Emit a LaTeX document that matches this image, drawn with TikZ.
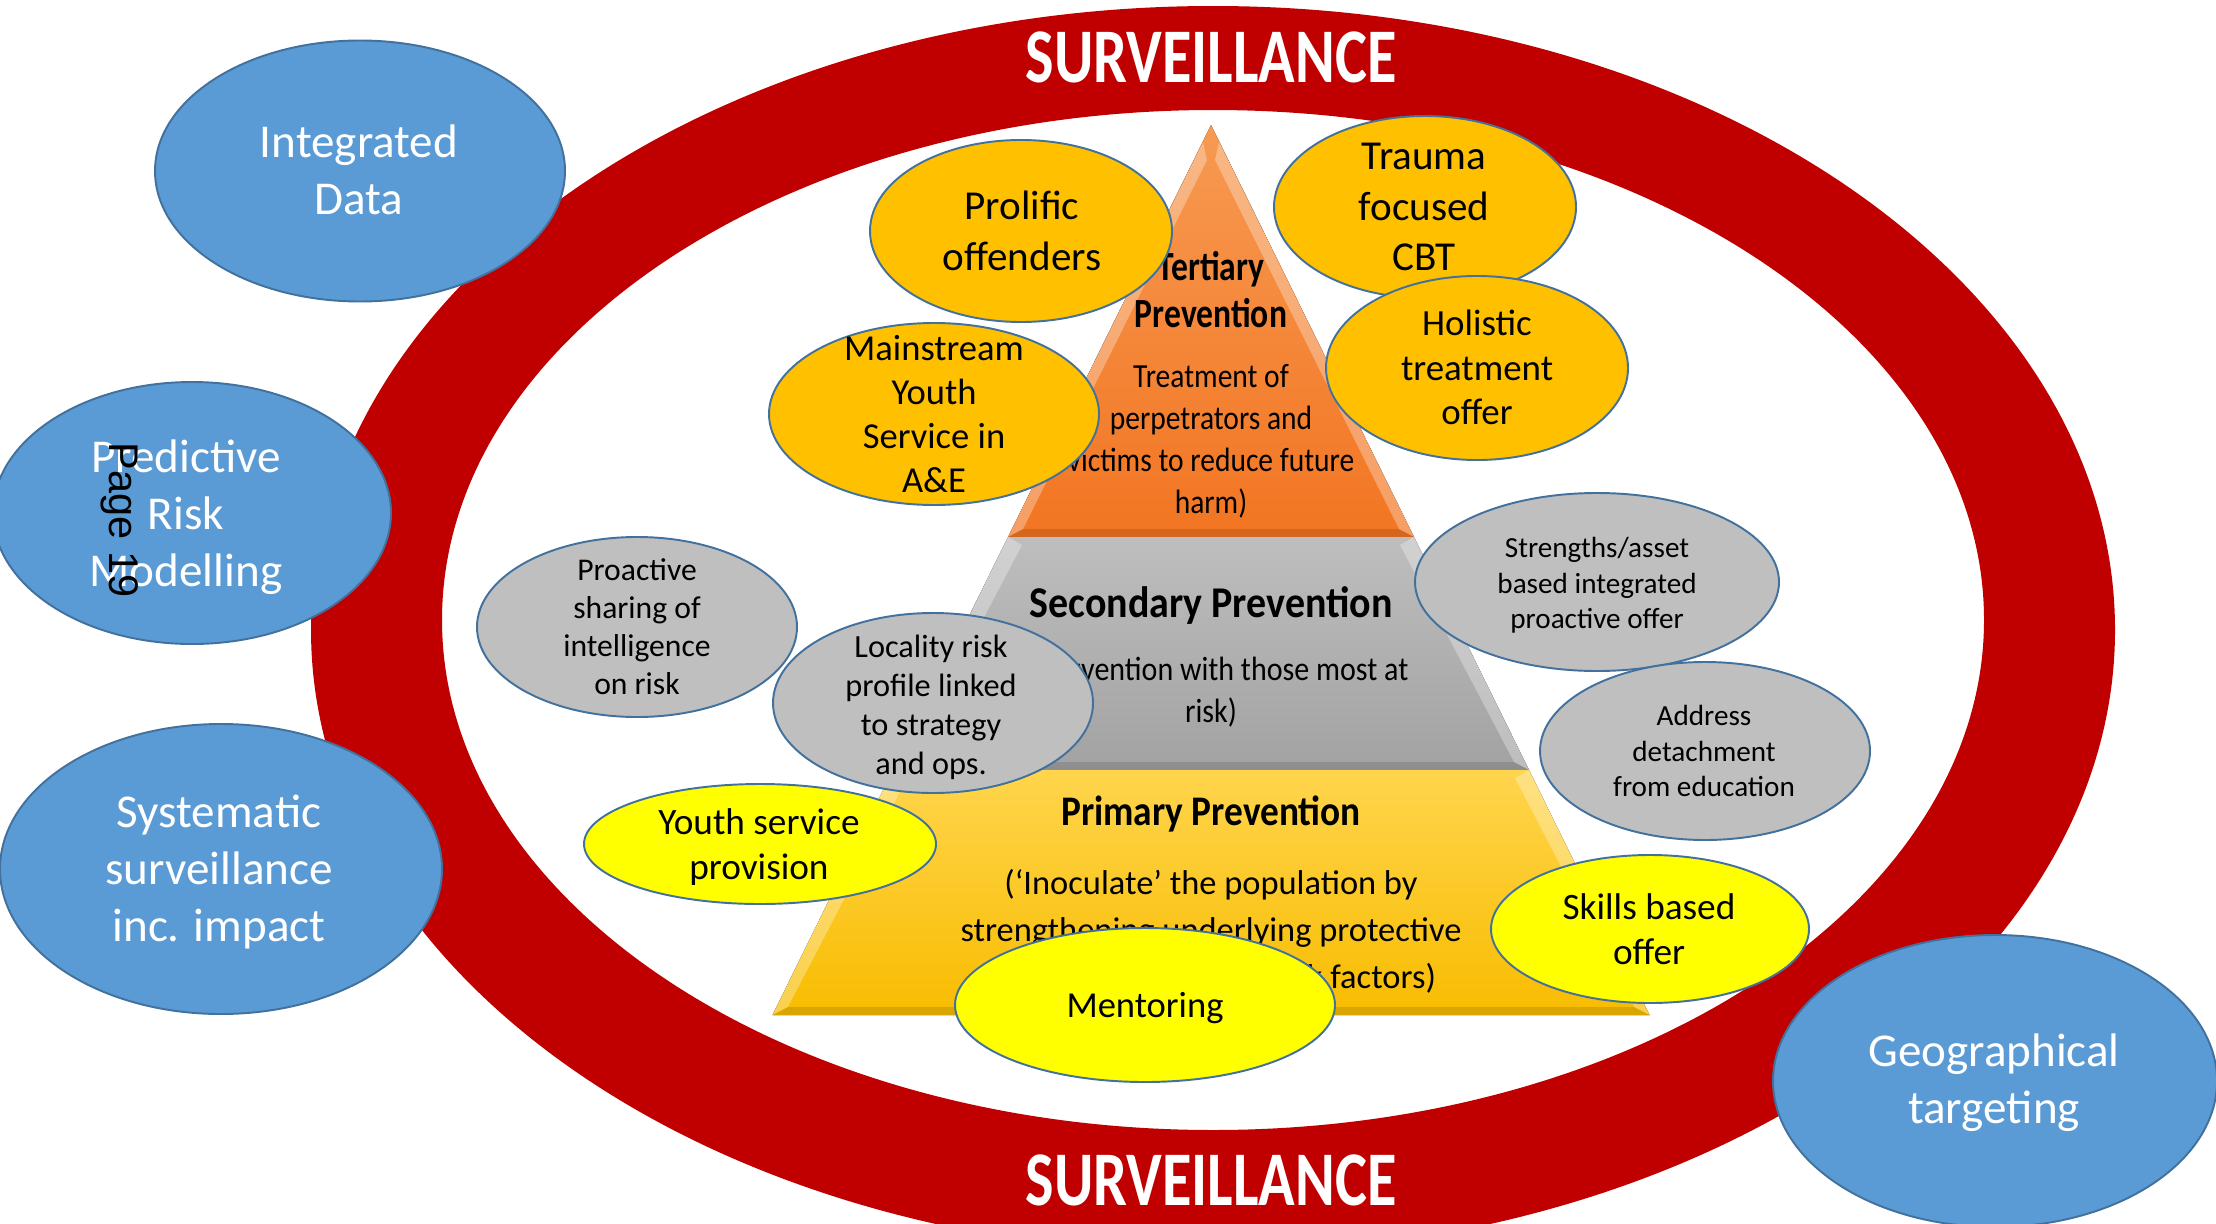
\documentclass[tikz,border=0pt]{standalone}
\usepackage{fontspec}
\usepackage{graphicx}
\setmainfont{Carlito}
\newfontfamily\pagefont{Liberation Sans}
\usetikzlibrary{shapes.geometric}
\definecolor{ringred}{HTML}{C00000}
\definecolor{bblue}{HTML}{5B9BD5}
\definecolor{eborder}{HTML}{41719C}
\definecolor{amber}{HTML}{FFC000}
\definecolor{lgray}{HTML}{BFBFBF}
\definecolor{byellow}{HTML}{FFFF00}
\definecolor{ortop}{HTML}{F79A52}
\definecolor{orbot}{HTML}{F27522}
\definecolor{grtop}{HTML}{BEBEBE}
\definecolor{grbot}{HTML}{A2A2A2}
\definecolor{yetop}{HTML}{FFD54D}
\definecolor{yebot}{HTML}{F8BC00}
\newcommand\myfs[2]{\fontsize{#1pt}{#2pt}\selectfont}
\newcommand\mytab[1]{\begin{tabular}{@{}c@{}}#1\end{tabular}}
\newcommand\mysqz[2]{\scalebox{#1}[1]{\mytab{#2}}}
\begin{document}
\begin{tikzpicture}[x=0.1mm, y=-0.1mm,
  blob/.style={ellipse, draw=eborder, line width=0.55pt, inner sep=0pt, outer sep=0pt},
  bluebl/.style={blob, fill=bblue},
  amberbl/.style={blob, fill=amber},
  graybl/.style={blob, fill=lgray},
  yelbl/.style={blob, fill=byellow},
  lbl/.style={inner sep=0pt, outer sep=0pt, text=black},
  wlbl/.style={lbl, text=white},
  litestrip/.style={fill=white, fill opacity=0.3},
  darkstrip/.style={fill=black, fill opacity=0.12}]
\useasboundingbox (0,0) rectangle (2216,1223);
\clip (0,0) rectangle (2216,1223);
\fill[white] (0,0) rectangle (2216,1223);
% ring
\fill[ringred, even odd rule] (1213,630) ellipse [x radius=90.2mm, y radius=62.4mm]
  (1213,620) ellipse [x radius=77.1mm, y radius=51mm];
\node[wlbl, anchor=base, font=\bfseries\myfs{22}{26}] (survtop) at (1211,83) {\scalebox{0.78}[1]{SURVEILLANCE}};
\node[wlbl, anchor=base, font=\bfseries\myfs{22}{26}] (survbot) at (1211,1205) {\scalebox{0.78}[1]{SURVEILLANCE}};
% pyramid: tertiary
\fill[top color=ortop, bottom color=orbot] (1211,125) -- (1414,537) -- (1008,537) -- cycle;
\fill[litestrip] (1203,142) -- (1008,537) -- (1023,529) -- (1207,160) -- cycle;
\fill[litestrip] (1219,142) -- (1414,537) -- (1399,529) -- (1215,160) -- cycle;
\fill[darkstrip] (1008,537) -- (1414,537) -- (1399,529) -- (1023,529) -- cycle;
% secondary
\fill[top color=grtop, bottom color=grbot] (1008,537) -- (1414,537) -- (1529,770) -- (893,770) -- cycle;
\fill[litestrip] (1008,537) -- (893,770) -- (908,762) -- (1022,545) -- cycle;
\fill[litestrip] (1414,537) -- (1529,770) -- (1514,762) -- (1400,545) -- cycle;
\fill[darkstrip] (893,770) -- (1529,770) -- (1514,762) -- (908,762) -- cycle;
% primary
\fill[top color=yetop, bottom color=yebot] (893,770) -- (1529,770) -- (1649.5,1015) -- (772.5,1015) -- cycle;
\fill[litestrip] (893,770) -- (772.5,1015) -- (788,1007) -- (907,778) -- cycle;
\fill[litestrip] (1529,770) -- (1649.5,1015) -- (1634,1007) -- (1515,778) -- cycle;
\fill[darkstrip] (772.5,1015) -- (1649.5,1015) -- (1634,1007) -- (788,1007) -- cycle;
% pyramid texts
\node[lbl] (terth) at (1211,295) {\bfseries\myfs{11.8}{13.4}\mysqz{0.81}{Tertiary\\Prevention}};
\node[lbl] (tertb) at (1211,442) {\myfs{9.6}{12}\mysqz{0.875}{Treatment of\\perpetrators and\\victims to reduce future\\harm)}};
\node[lbl, anchor=base] (sech) at (1211,617) {\bfseries\myfs{12.5}{15}\scalebox{0.91}[1]{Secondary Prevention}};
\node[lbl] (secb) at (1211,693) {\myfs{9.6}{12}\mysqz{0.89}{(Intervention with those most at\\risk)}};
\node[lbl, anchor=base] (primh) at (1211,825) {\bfseries\myfs{12}{14.4}\scalebox{0.885}[1]{Primary Prevention}};
\node[lbl] (primb) at (1211,909) {\myfs{9.8}{13.4}\mytab{(‘Inoculate’ the population by\\strengthening underlying protective}};
\node[lbl, anchor=base east] (primc) at (1436,988) {\myfs{9.8}{13.4}and reducing risk factors)};
% blue ellipses
\node[bluebl, minimum width=41mm, minimum height=26.1mm] (intdata) at (360,171) {};
\node[wlbl] (intdatat) at (359,175) {\myfs{13.4}{16.2}\mytab{Integrated\\Data}};
\node[bluebl, minimum width=39.8mm, minimum height=26.2mm] (predrisk) at (192,513) {};
\node[wlbl] (predriskt) at (186,518) {\myfs{13.4}{16.2}\mytab{Predictive\\Risk\\Modelling}};
\node[bluebl, minimum width=44.2mm, minimum height=29mm] (syssurv) at (221,869) {};
\node[wlbl] (syssurvt) at (219,873) {\myfs{13.4}{16.2}\mytab{Systematic\\surveillance\\inc. impact}};
\node[bluebl, minimum width=44.4mm, minimum height=29.2mm] (geotarg) at (1995,1081) {};
\node[wlbl] (geotargt) at (1994,1084) {\myfs{13.4}{16.2}\mytab{Geographical\\targeting}};
% amber ellipses
\node[amberbl, minimum width=30.2mm, minimum height=18.2mm] (prolific) at (1021,231) {};
\node[lbl] (prolifict) at (1022,235) {\myfs{11.7}{14.6}\mytab{Prolific\\offenders}};
\node[amberbl, minimum width=33mm, minimum height=18.2mm] (mainstream) at (934,414) {};
\node[lbl] (mainstreamt) at (934,418) {\myfs{10.4}{12.5}\mytab{Mainstream\\Youth\\Service in\\A\&E}};
\node[amberbl, minimum width=30.2mm, minimum height=18.2mm] (trauma) at (1425,207) {};
\node[lbl] (traumat) at (1424,210) {\myfs{11.7}{14.4}\mytab{Trauma\\focused\\CBT}};
\node[amberbl, minimum width=30.2mm, minimum height=18.4mm] (holistic) at (1477,368) {};
\node[lbl] (holistict) at (1477,371) {\myfs{10.5}{12.8}\mytab{Holistic\\treatment\\offer}};
% gray ellipses
\node[graybl, minimum width=32mm, minimum height=18mm] (proactive) at (637,627) {};
\node[lbl] (proactivet) at (637,630) {\myfs{9}{10.8}\mytab{Proactive\\sharing of\\intelligence\\on risk}};
\node[graybl, minimum width=32mm, minimum height=18mm] (locality) at (933,703) {};
\node[lbl] (localityt) at (931,708) {\myfs{9.2}{11.1}\mytab{Locality risk\\profile linked\\to strategy\\and ops.}};
\node[graybl, minimum width=36.4mm, minimum height=17.8mm] (strengths) at (1597,582) {};
\node[lbl] (strengthst) at (1597,586) {\myfs{8.3}{10}\mytab{Strengths/asset\\based integrated\\proactive offer}};
\node[graybl, minimum width=33mm, minimum height=17.8mm] (address) at (1705,751) {};
\node[lbl] (addresst) at (1704,754) {\myfs{8.3}{10}\mytab{Address\\detachment\\from education}};
% yellow ellipses
\node[yelbl, minimum width=35.2mm, minimum height=12mm] (youth) at (760,844) {};
\node[lbl] (youtht) at (759,848) {\myfs{10.6}{12.8}\mytab{Youth service\\provision}};
\node[yelbl, minimum width=31.8mm, minimum height=14.8mm] (skills) at (1650,929) {};
\node[lbl] (skillst) at (1649,933) {\myfs{10.6}{12.8}\mytab{Skills based\\offer}};
\node[yelbl, minimum width=38mm, minimum height=15.4mm] (mentoring) at (1145,1005) {};
\node[lbl, anchor=base] (mentoringt) at (1145,1017) {\myfs{10.4}{12.5}Mentoring};
% page number
\node[lbl, rotate=-90, font=\pagefont\myfs{11.8}{14}] (pagenum) at (120,520) {Page 19};
\end{tikzpicture}
\end{document}
